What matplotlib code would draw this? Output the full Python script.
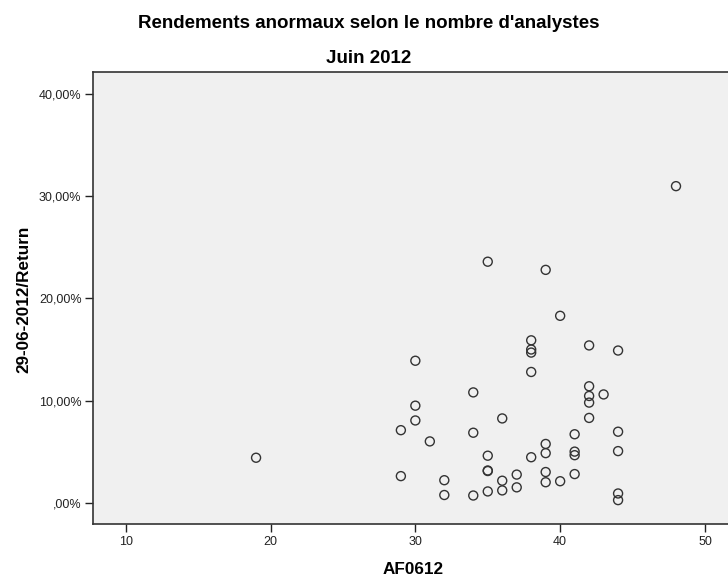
import matplotlib
matplotlib.use("Agg")
import matplotlib.pyplot as plt
from matplotlib.ticker import FuncFormatter

plt.rcParams['font.family'] = ['Liberation Sans', 'DejaVu Sans']

analysts = [19, 29, 29, 30, 30, 30, 31, 32, 32,
            34, 34, 34, 35, 35, 35, 35, 35,
            36, 36, 36, 37, 37,
            38, 38, 38, 38, 38,
            39, 39, 39, 39, 39, 40, 40,
            41, 41, 41, 41,
            42, 42, 42, 42, 42, 43,
            44, 44, 44, 44, 44, 48]
returns_pct = [4.4, 7.1, 2.6, 13.9, 9.5, 8.05, 6.0, 2.2, 0.75,
               10.8, 6.85, 0.7, 23.6, 4.6, 3.15, 3.1, 1.1,
               8.25, 2.15, 1.2, 2.75, 1.5,
               15.9, 15.0, 14.7, 12.8, 4.45,
               22.8, 5.75, 4.85, 3.0, 2.0, 18.3, 2.1,
               6.7, 5.0, 4.65, 2.8,
               15.4, 11.4, 10.45, 9.8, 8.3, 10.6,
               14.9, 6.95, 5.05, 0.9, 0.25, 31.0]

x_ticks = [10, 20, 30, 40, 50]
y_ticks = [0, 10, 20, 30, 40]

fig = plt.figure(figsize=(7.28, 5.80), dpi=100)
ax = fig.add_axes([93.3 / 728, 1 - 523.7 / 580, (737.4 - 93.3) / 728, (523.7 - 72.3) / 580])
ax.set_facecolor('#f0f0f0')

ax.scatter(analysts, returns_pct, s=42, facecolors='none', edgecolors='#333333', linewidths=1.0, zorder=3)

ax.set_xlim(7.76, 52.24)
ax.set_ylim(-2.06, 42.15)
ax.set_xticks(x_ticks)
ax.set_yticks(y_ticks)

def pct_fmt(v, pos):
    s = f"{v:.2f}".replace('.', ',')
    if s.startswith('0,'):
        s = s[1:]
    return s + '%'

ax.yaxis.set_major_formatter(FuncFormatter(pct_fmt))
ax.tick_params(axis='both', direction='out', length=6, width=1, labelsize=9, colors='#222222', pad=2.5)
for side in ['left', 'bottom', 'top']:
    ax.spines[side].set_color('#333333')
    ax.spines[side].set_linewidth(1.2)
ax.spines['right'].set_visible(False)

fig.text(368.5 / 728, 1 - 28 / 580, "Rendements anormaux selon le nombre d'analystes",
         ha='center', va='baseline', fontsize=13.5, fontweight='bold')
fig.text(368.5 / 728, 1 - 63 / 580, "Juin 2012", ha='center', va='baseline', fontsize=13.5, fontweight='bold')

fig.text(413 / 728, 1 - 574 / 580, "AF0612", ha='center', va='baseline', fontsize=12.3, fontweight='bold')
fig.text(24 / 728, 1 - 299 / 580, "29-06-2012/Return", ha='center', va='center', rotation=90,
         fontsize=12.3, fontweight='bold')

fig.savefig('out.png', dpi=100)
